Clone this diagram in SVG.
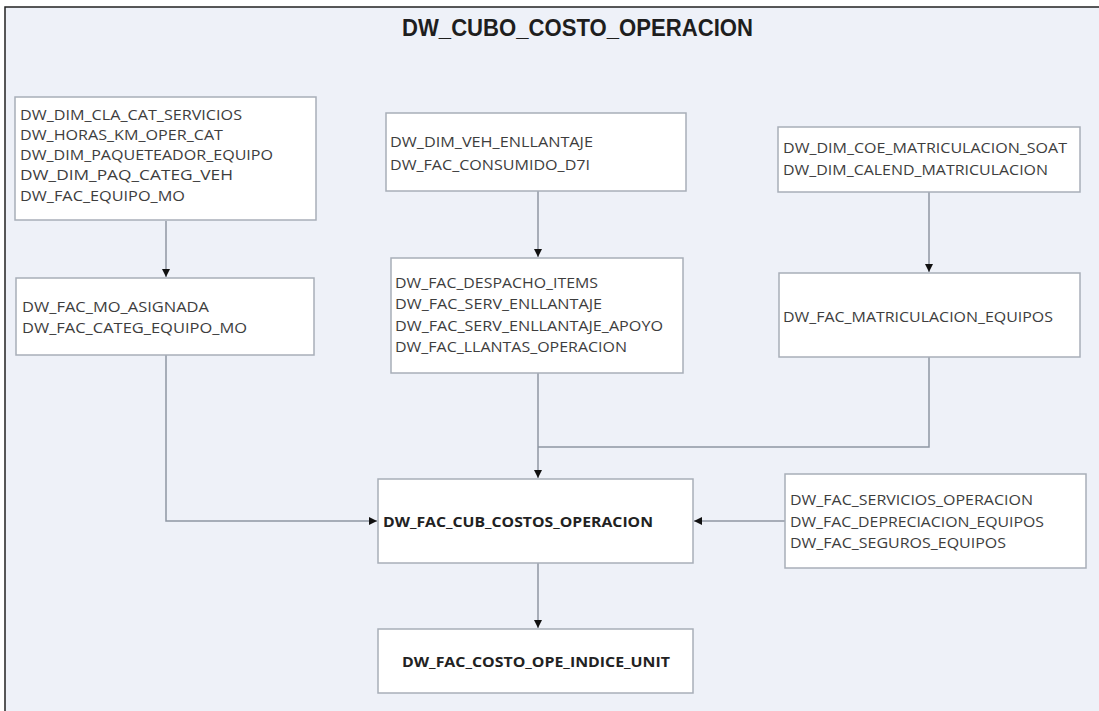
<svg xmlns="http://www.w3.org/2000/svg" width="1099" height="711" viewBox="0 0 1099 711">
<defs>
<style>
.bg{fill:#eef1f8;stroke:#222;stroke-width:1.5}
.box{fill:#ffffff;stroke:#a8aeb8;stroke-width:1.5}
.t{font-family:"Open Sans","Liberation Sans",sans-serif;font-size:14px;fill:#3d3d3d}
.b{font-family:"Open Sans","Liberation Sans",sans-serif;font-size:14px;font-weight:bold;fill:#222}
.title{font-family:"Liberation Sans",Arial,sans-serif;font-size:24px;font-weight:bold;fill:#1e1e1e}
.c{fill:none;stroke:#8f96a3;stroke-width:1.5}
</style>
<marker id="ah" viewBox="0 0 10 10" refX="10" refY="5" markerWidth="8" markerHeight="9" markerUnits="userSpaceOnUse" orient="auto">
<path d="M0,0 L10,5 L0,10 z" fill="#111"/>
</marker>
</defs>
<rect class="bg" x="5" y="7" width="1100" height="712"/>
<text class="title" x="402" y="36" textLength="351" lengthAdjust="spacingAndGlyphs">DW_CUBO_COSTO_OPERACION</text>

<g id="connectors">
<path class="c" d="M166,221 V277" marker-end="url(#ah)"/>
<path class="c" d="M538,191 V257" marker-end="url(#ah)"/>
<path class="c" d="M929,192 V272" marker-end="url(#ah)"/>
<path class="c" d="M166,355 V521 H377" marker-end="url(#ah)"/>
<path class="c" d="M538,373 V478" marker-end="url(#ah)"/>
<path class="c" d="M929,357 V447 H538"/>
<path class="c" d="M785,521 H694" marker-end="url(#ah)"/>
<path class="c" d="M538,563 V628" marker-end="url(#ah)"/>
</g>

<g id="n1">
<rect class="box" x="15" y="97" width="301" height="123"/>
<text class="t" x="20" y="120" textLength="222" lengthAdjust="spacingAndGlyphs">DW_DIM_CLA_CAT_SERVICIOS</text>
<text class="t" x="20" y="140" textLength="203" lengthAdjust="spacingAndGlyphs">DW_HORAS_KM_OPER_CAT</text>
<text class="t" x="20" y="160" textLength="253" lengthAdjust="spacingAndGlyphs">DW_DIM_PAQUETEADOR_EQUIPO</text>
<text class="t" x="20" y="180" textLength="213" lengthAdjust="spacingAndGlyphs">DW_DIM_PAQ_CATEG_VEH</text>
<text class="t" x="20" y="201" textLength="165" lengthAdjust="spacingAndGlyphs">DW_FAC_EQUIPO_MO</text>
</g>
<g id="n2">
<rect class="box" x="16" y="278" width="298" height="77"/>
<text class="t" x="22" y="312" textLength="187" lengthAdjust="spacingAndGlyphs">DW_FAC_MO_ASIGNADA</text>
<text class="t" x="22" y="333" textLength="225" lengthAdjust="spacingAndGlyphs">DW_FAC_CATEG_EQUIPO_MO</text>
</g>
<g id="n3">
<rect class="box" x="386" y="113" width="300" height="78"/>
<text class="t" x="390" y="147" textLength="203" lengthAdjust="spacingAndGlyphs">DW_DIM_VEH_ENLLANTAJE</text>
<text class="t" x="390" y="170" textLength="200" lengthAdjust="spacingAndGlyphs">DW_FAC_CONSUMIDO_D7I</text>
</g>
<g id="n4">
<rect class="box" x="391" y="258" width="292" height="115"/>
<text class="t" x="395" y="288" textLength="203" lengthAdjust="spacingAndGlyphs">DW_FAC_DESPACHO_ITEMS</text>
<text class="t" x="395" y="309" textLength="207" lengthAdjust="spacingAndGlyphs">DW_FAC_SERV_ENLLANTAJE</text>
<text class="t" x="395" y="331" textLength="268" lengthAdjust="spacingAndGlyphs">DW_FAC_SERV_ENLLANTAJE_APOYO</text>
<text class="t" x="395" y="352" textLength="232" lengthAdjust="spacingAndGlyphs">DW_FAC_LLANTAS_OPERACION</text>
</g>
<g id="n5">
<rect class="box" x="778" y="127" width="302" height="65"/>
<text class="t" x="783" y="153" textLength="284" lengthAdjust="spacingAndGlyphs">DW_DIM_COE_MATRICULACION_SOAT</text>
<text class="t" x="783" y="175" textLength="265" lengthAdjust="spacingAndGlyphs">DW_DIM_CALEND_MATRICULACION</text>
</g>
<g id="n6">
<rect class="box" x="779" y="273" width="301" height="84"/>
<text class="t" x="783" y="322" textLength="270" lengthAdjust="spacingAndGlyphs">DW_FAC_MATRICULACION_EQUIPOS</text>
</g>
<g id="n7">
<rect class="box" x="785" y="474" width="301" height="94"/>
<text class="t" x="790" y="505" textLength="243" lengthAdjust="spacingAndGlyphs">DW_FAC_SERVICIOS_OPERACION</text>
<text class="t" x="790" y="527" textLength="254" lengthAdjust="spacingAndGlyphs">DW_FAC_DEPRECIACION_EQUIPOS</text>
<text class="t" x="790" y="548" textLength="216" lengthAdjust="spacingAndGlyphs">DW_FAC_SEGUROS_EQUIPOS</text>
</g>
<g id="n8">
<rect class="box" x="378" y="479" width="315" height="84"/>
<text class="b" x="383" y="527" textLength="270" lengthAdjust="spacingAndGlyphs">DW_FAC_CUB_COSTOS_OPERACION</text>
</g>
<g id="n9">
<rect class="box" x="378" y="629" width="315" height="64"/>
<text class="b" x="402" y="667" textLength="268" lengthAdjust="spacingAndGlyphs">DW_FAC_COSTO_OPE_INDICE_UNIT</text>
</g>
</svg>
